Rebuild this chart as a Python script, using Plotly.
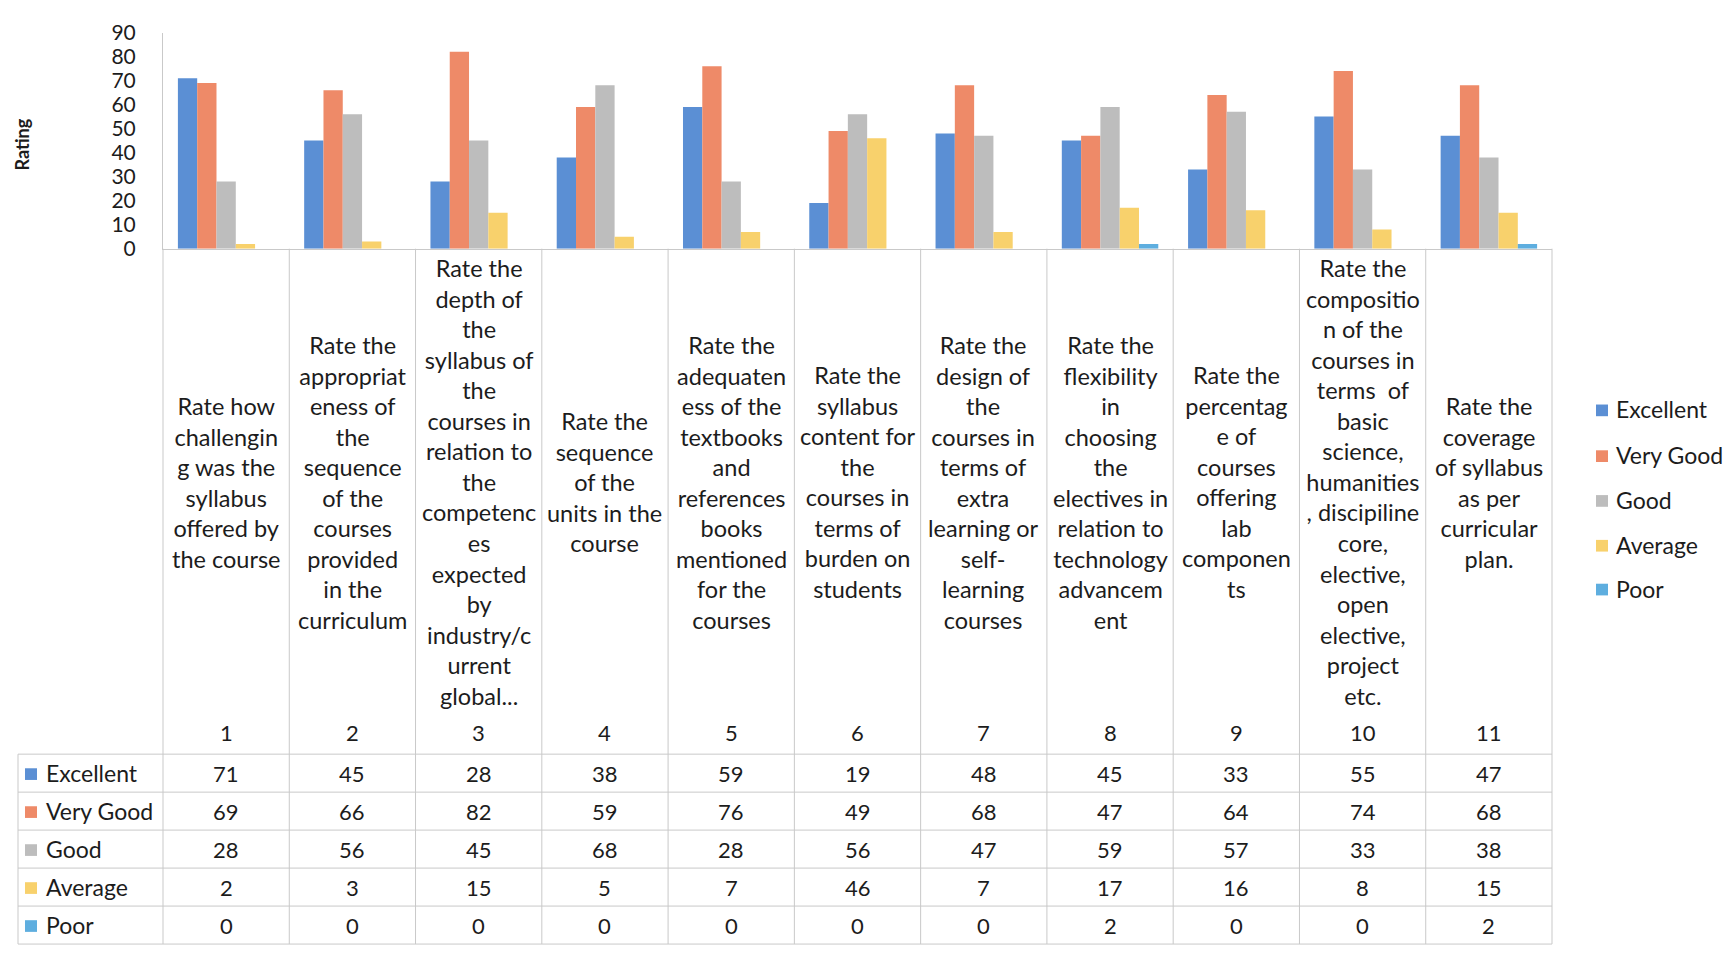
import plotly.graph_objects as go

# ---- data ----
question_no = [1, 2, 3, 4, 5, 6, 7, 8, 9, 10, 11]
question_labels = [
    ["Rate how", "challengin", "g was the", "syllabus", "offered by", "the course"],
    ["Rate the", "appropriat", "eness of", "the", "sequence", "of the", "courses", "provided", "in the", "curriculum"],
    ["Rate the", "depth of", "the", "syllabus of", "the", "courses in", "relation to", "the", "competenc",
     "es", "expected", "by", "industry/c", "urrent", "global..."],
    ["Rate the", "sequence", "of the", "units in the", "course"],
    ["Rate the", "adequaten", "ess of the", "textbooks", "and", "references", "books", "mentioned",
     "for the", "courses"],
    ["Rate the", "syllabus", "content for", "the", "courses in", "terms of", "burden on", "students"],
    ["Rate the", "design of", "the", "courses in", "terms of", "extra", "learning or", "self-",
     "learning", "courses"],
    ["Rate the", "flexibility", "in", "choosing", "the", "electives in", "relation to", "technology",
     "advancem", "ent"],
    ["Rate the", "percentag", "e of", "courses", "offering", "lab", "componen", "ts"],
    ["Rate the", "compositio", "n of the", "courses in", "terms  of", "basic", "science,", "humanities",
     ", discipiline", "core,", "elective,", "open", "elective,", "project", "etc."],
    ["Rate the", "coverage", "of syllabus", "as per", "curricular", "plan."],
]
series_names = ["Excellent", "Very Good", "Good", "Average", "Poor"]
excellent = [71, 45, 28, 38, 59, 19, 48, 45, 33, 55, 47]
very_good = [69, 66, 82, 59, 76, 49, 68, 47, 64, 74, 68]
good = [28, 56, 45, 68, 28, 56, 47, 59, 57, 33, 38]
average = [2, 3, 15, 5, 7, 46, 7, 17, 16, 8, 15]
poor = [0, 0, 0, 0, 0, 0, 0, 2, 0, 0, 2]
series_values = [excellent, very_good, good, average, poor]
series_colors = ["#5B8FD4", "#EE8A68", "#BDBDBD", "#F8D16C", "#5EAEDF"]
y_ticks = [0, 10, 20, 30, 40, 50, 60, 70, 80, 90]

# ---- geometry (pixels) ----
W, H = 1727, 957
PLOT_L, PLOT_R = 163, 1552
BASE_Y, TOP_Y = 241, 19
TABLE_L = 18
ROW_LINES = [760, 799, 838, 877, 916, 955]
NUM_ROW_Y = 738
LABEL_MID_Y = 481
LEGEND_YS = [406, 453, 499, 545, 590]
GRID = "#C9C9C9"
TXT = "#1C1C1C"
FONT = "Lato"


def px(x):
    return x / W


def py(y):
    return 1 - y / H


fig = go.Figure()
for name, vals, col in zip(series_names, series_values, series_colors):
    fig.add_trace(go.Bar(x=question_no, y=vals, name=name, marker=dict(color=col, line=dict(width=0)),
                         showlegend=False))

shapes = []
annotations = []

# table grid: column separators below the axis
n = len(question_no)
step = (PLOT_R - PLOT_L) / n
for k in range(n + 1):
    xk = PLOT_L + k * step
    shapes.append(dict(type="line", xref="paper", yref="paper", x0=px(xk), x1=px(xk),
                       y0=py(BASE_Y), y1=py(ROW_LINES[-1]), line=dict(color=GRID, width=1)))
shapes.append(dict(type="line", xref="paper", yref="paper", x0=px(TABLE_L), x1=px(TABLE_L),
                   y0=py(ROW_LINES[0]), y1=py(ROW_LINES[-1]), line=dict(color=GRID, width=1)))
for yl in ROW_LINES:
    shapes.append(dict(type="line", xref="paper", yref="paper", x0=px(TABLE_L), x1=px(PLOT_R),
                       y0=py(yl), y1=py(yl), line=dict(color=GRID, width=1)))

# question labels and numbers
for q, lines in zip(question_no, question_labels):
    annotations.append(dict(x=q, xref="x", y=py(LABEL_MID_Y), yref="paper", text="<br>".join(lines),
                            showarrow=False, align="center", xanchor="center", yanchor="middle",
                            font=dict(family=FONT, size=23.5, color=TXT)))
    annotations.append(dict(x=q, xref="x", y=py(NUM_ROW_Y), yref="paper", text=str(q),
                            showarrow=False, xanchor="center", yanchor="middle",
                            font=dict(family=FONT, size=22, color=TXT)))

# data rows of the table
for i, (name, vals, col) in enumerate(zip(series_names, series_values, series_colors)):
    yc = (ROW_LINES[i] + ROW_LINES[i + 1]) / 2
    shapes.append(dict(type="rect", xref="paper", yref="paper", x0=px(25), x1=px(37),
                       y0=py(yc - 5), y1=py(yc + 7), fillcolor=col, line=dict(width=0)))
    annotations.append(dict(x=px(44), xref="paper", y=py(yc), yref="paper", text=name,
                            showarrow=False, xanchor="left", yanchor="middle",
                            font=dict(family=FONT, size=23, color=TXT)))
    for q, v in zip(question_no, vals):
        annotations.append(dict(x=q, xref="x", y=py(yc), yref="paper", text=str(v),
                                showarrow=False, xanchor="center", yanchor="middle",
                                font=dict(family=FONT, size=22, color=TXT)))

# legend on the right
for name, col, yl in zip(series_names, series_colors, LEGEND_YS):
    shapes.append(dict(type="rect", xref="paper", yref="paper", x0=px(1596), x1=px(1608),
                       y0=py(yl - 5), y1=py(yl + 7), fillcolor=col, line=dict(width=0)))
    annotations.append(dict(x=px(1614), xref="paper", y=py(yl), yref="paper", text=name,
                            showarrow=False, xanchor="left", yanchor="middle",
                            font=dict(family=FONT, size=23, color=TXT)))

# axis title
annotations.append(dict(x=px(22), xref="paper", y=py(134), yref="paper", text="<b>Rating</b>",
                        textangle=-90, showarrow=False, xanchor="center", yanchor="middle",
                        font=dict(family=FONT, size=18, color=TXT)))

fig.update_layout(
    width=W, height=H,
    margin=dict(l=0, r=0, t=0, b=0),
    paper_bgcolor="white", plot_bgcolor="white",
    barmode="group", bargap=0.236, bargroupgap=0,
    shapes=shapes, annotations=annotations,
    xaxis=dict(domain=[px(PLOT_L), px(PLOT_R)], range=[0.5, n + 0.5], showticklabels=False,
               showgrid=False, zeroline=False, showline=True, linecolor=GRID, linewidth=1, ticks=""),
    yaxis=dict(domain=[py(BASE_Y), py(TOP_Y)], range=[0, 90], tickvals=y_ticks, showgrid=False,
               zeroline=False, showline=True, linecolor=GRID, linewidth=1, ticks="",
               ticklabelstandoff=22, tickfont=dict(family=FONT, size=21, color=TXT)),
    font=dict(family=FONT, color=TXT),
)

fig.write_html("out.html")
